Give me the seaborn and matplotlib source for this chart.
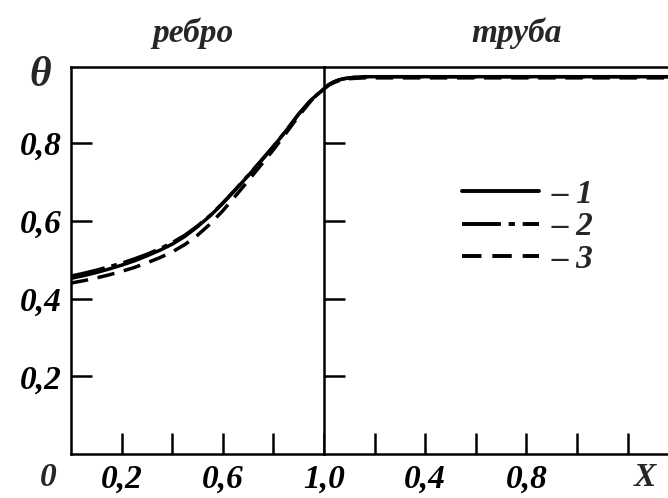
import seaborn as sns
import matplotlib.pyplot as plt
import pandas as pd
from matplotlib.lines import Line2D

# ребро (fin), X from 0 to 1
fin_x = [0.0, 0.05, 0.1, 0.15, 0.2, 0.25, 0.3, 0.35, 0.4, 0.45, 0.5,
         0.55, 0.6, 0.65, 0.7, 0.75, 0.8, 0.85, 0.9, 0.95, 1.0]
fin_1 = [0.452, 0.459, 0.467, 0.476, 0.486, 0.497, 0.510, 0.524, 0.540, 0.560, 0.585,
         0.613, 0.645, 0.680, 0.716, 0.753, 0.791, 0.832, 0.875, 0.912, 0.940]
fin_2 = [0.458, 0.465, 0.473, 0.482, 0.491, 0.502, 0.514, 0.528, 0.544, 0.563, 0.587,
         0.614, 0.646, 0.681, 0.717, 0.754, 0.792, 0.832, 0.875, 0.912, 0.940]
fin_3 = [0.440, 0.446, 0.453, 0.461, 0.470, 0.480, 0.492, 0.505, 0.520, 0.539, 0.563,
         0.592, 0.626, 0.664, 0.703, 0.743, 0.783, 0.826, 0.870, 0.910, 0.940]

# труба (tube)
tube_x = [0.0, 0.02, 0.04, 0.06, 0.08, 0.1, 0.13, 0.16, 0.2, 0.6, 1.0, 1.36]
tube_1 = [0.940, 0.951, 0.958, 0.963, 0.966, 0.968, 0.970, 0.971, 0.971, 0.971, 0.971, 0.971]
tube_2 = [0.940, 0.951, 0.958, 0.963, 0.966, 0.968, 0.970, 0.971, 0.971, 0.971, 0.971, 0.971]
tube_3 = [0.940, 0.950, 0.956, 0.961, 0.964, 0.966, 0.967, 0.968, 0.968, 0.968, 0.968, 0.968]

curves = ["1", "2", "3"]
fin_ticks = [0.2, 0.4, 0.6, 0.8, 1.0]
fin_ticklabels = ["0,2", "", "0,6", "", "1,0"]
tube_ticks = [0.2, 0.4, 0.6, 0.8, 1.0, 1.2]
tube_ticklabels = ["", "0,4", "", "0,8", "", ""]
y_ticks = [0.2, 0.4, 0.6, 0.8]
y_ticklabels = ["0,2", "0,4", "0,6", "0,8"]

sns.set_style("white")
plt.rcParams['font.family'] = ['Liberation Serif', 'DejaVu Serif']
plt.rcParams['font.weight'] = 'bold'
plt.rcParams['font.style'] = 'italic'
FS = 24

fin_df = pd.DataFrame({"X": fin_x * 3, "theta": fin_1 + fin_2 + fin_3,
                       "curve": sum([[c] * len(fin_x) for c in curves], [])})
tube_df = pd.DataFrame({"X": tube_x * 3, "theta": tube_1 + tube_2 + tube_3,
                        "curve": sum([[c] * len(tube_x) for c in curves], [])})

dashes = {"1": "", "2": (10, 2, 1.6, 2), "3": (5, 2.8)}
pal = {c: "black" for c in curves}

fig = plt.figure(figsize=(6.68, 4.98), dpi=100)
W, H = 668, 498
ax1 = fig.add_axes([71 / W, 44 / H, 253 / W, 387 / H])
ax2 = fig.add_axes([324 / W, 44 / H, 344 / W, 387 / H])

sns.lineplot(data=fin_df, x="X", y="theta", hue="curve", style="curve",
             palette=pal, dashes=dashes, linewidth=2.5, legend=False, ax=ax1)
sns.lineplot(data=tube_df, x="X", y="theta", hue="curve", style="curve",
             palette=pal, dashes=dashes, linewidth=2.5, legend=False, ax=ax2)

for ax in (ax1, ax2):
    ax.set_ylim(0, 0.996)
    ax.set_xlabel("")
    ax.set_ylabel("")
    for s in ax.spines.values():
        s.set_linewidth(1.8)
        s.set_color("black")
    ax.spines["right"].set_visible(False)
    ax.tick_params(direction="in", length=15, width=1.8, colors="black",
                   labelsize=FS, pad=7, bottom=True, left=True)
    ax.set_yticks(y_ticks)

ax1.set_xlim(0, 1.0)
ax2.set_xlim(0, 1.36)
ax1.set_xticks(fin_ticks)
ax1.set_xticklabels(fin_ticklabels)
ax1.set_yticklabels(y_ticklabels)
ax2.set_xticks(tube_ticks)
ax2.set_xticklabels(tube_ticklabels)
ax2.tick_params(axis="y", labelleft=False)

ax1.text(-0.09, -0.02, "0", transform=ax1.transAxes, fontsize=FS,
         ha="center", va="top")
ax2.text(1.27, -0.02, "X", transform=ax2.get_xaxis_transform(), fontsize=FS,
         ha="center", va="top")
fig.text(40 / W, 1 - 76 / H, "θ", fontsize=30, ha="center", va="center")
fig.text(193 / W, 1 - 33 / H, "ребро", fontsize=FS, ha="center", va="center")
fig.text(517 / W, 1 - 33 / H, "труба", fontsize=FS, ha="center", va="center")

handles = [Line2D([], [], color="black", linewidth=2.8, linestyle="-"),
           Line2D([], [], color="black", linewidth=2.8, dashes=dashes["2"]),
           Line2D([], [], color="black", linewidth=2.8, dashes=dashes["3"])]
ax2.legend(handles, ["– " + c for c in curves], loc="center left",
           bbox_to_anchor=(0.401, 0.587), frameon=False, fontsize=FS,
           handlelength=2.3, handletextpad=0.4, labelspacing=0.05,
           borderpad=0, borderaxespad=0)

fig.savefig("out.png", dpi=100)
